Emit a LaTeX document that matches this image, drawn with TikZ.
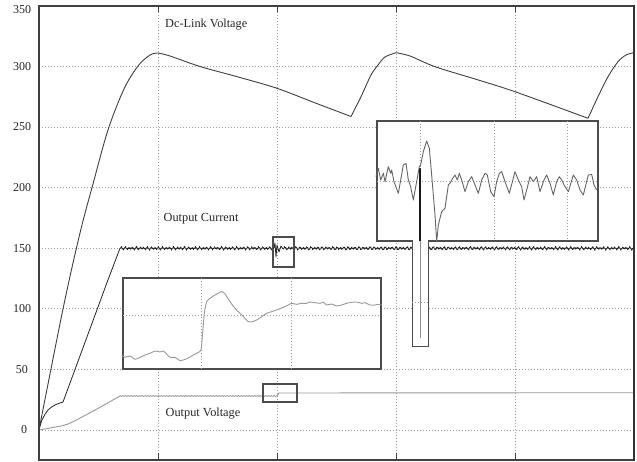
\documentclass[tikz,border=0pt]{standalone}
\usepackage{fontspec}
\setmainfont{Liberation Serif}
\begin{document}
\begin{tikzpicture}[x=1pt,y=-1pt,
  gridl/.style={gray!75, line width=0.8pt, dash pattern=on 0.8pt off 2.2pt},
  frame/.style={draw=black!75, line width=1.6pt},
  boxl/.style={draw=black!70, line width=1.1pt},
  dctrace/.style={black!75, line width=0.9pt, line join=round},
  curtrace/.style={black!85, line width=0.8pt, line join=round},
  volttrace/.style={black!40, line width=0.9pt, line join=round},
  insettrace/.style={black!60, line width=0.9pt, line join=round},
  lbl/.style={font=\fontsize{12.3}{14}\selectfont, inner sep=0pt, text=black!85},
  ylbl/.style={font=\fontsize{12}{14}\selectfont, inner sep=0pt, text=black!85}]
\useasboundingbox (0,0) rectangle (637,462);
\fill[white] (0,0) rectangle (637,462);
% grid
\foreach \gx in {158.3,277.3,396.3,515.3} \draw[gridl] (\gx,6) -- (\gx,460);
\foreach \gy in {430,369.4,308.8,248.2,187.6,127,66.4} \draw[gridl] (39,\gy) -- (634,\gy);
% y labels
\node[ylbl] (y350) at (22,10) {350};
\node[ylbl] (y300) at (22,66.4) {300};
\node[ylbl] (y250) at (22,127) {250};
\node[ylbl] (y200) at (22,187.6) {200};
\node[ylbl] (y150) at (22,248.2) {150};
\node[ylbl] (y100) at (22,308.8) {100};
\node[ylbl] (y50) at (22,369.4) {50};
\node[ylbl] (y0) at (24,430) {0};
% dc-link voltage
\draw[dctrace] plot[smooth, tension=0.55] coordinates {(39,430) (63,309) (80,233) (93,184) (108,130) (124,89) (138,66) (150,55) (158,53)};
\draw[dctrace] plot[smooth, tension=0.5] coordinates {(158,53) (170,56) (200,66.5) (240,77.5) (277,88.3) (318,104) (351,116.5)};
\draw[dctrace] plot[smooth, tension=0.5] coordinates {(351,116.5) (361,96.7) (371,75) (378,65) (385,57) (396,52.7)};
\draw[dctrace] plot[smooth, tension=0.5] coordinates {(396,52.7) (410,56) (435,66.7) (475,79) (515,91.7) (588,118.3)};
\draw[dctrace] plot[smooth, tension=0.5] coordinates {(588,118.3) (598,96.7) (608,76.7) (618,61.7) (626,55) (634,52.7)};
% output current
\draw[curtrace] plot[smooth, tension=0.5] coordinates {(39,430) (42,420) (48,410) (55,405) (63,402)};
\draw[curtrace] (63,402) -- (97.4,308.7) -- (106.7,283.3) -- (120,248.3);
\draw[curtrace] plot[domain=120:274, samples=330] (\x,{248.3+0.9*sin(360*frac(\x/3.711))+0.7*sin(360*frac(\x/1.37)+40)+0.5*sin(360*frac(\x/5.3))});
\draw[curtrace] (274,248) -- (275,243) -- (276,257) -- (277,245) -- (279,252) -- (281,246) -- (283,249);
\draw[curtrace] plot[domain=283:418, samples=290] (\x,{248.3+0.9*sin(360*frac(\x/3.711))+0.7*sin(360*frac(\x/1.37)+40)+0.5*sin(360*frac(\x/5.3))});
\draw[curtrace] plot[domain=422:634, samples=450] (\x,{248.3+0.9*sin(360*frac(\x/3.711))+0.7*sin(360*frac(\x/1.37)+40)+0.5*sin(360*frac(\x/5.3))});
% output voltage
\draw[volttrace] plot[smooth, tension=0.5] coordinates {(39,430) (50,428) (68,424) (95,410) (120,396)};
\draw[volttrace] plot[domain=120:277, samples=200] (\x,{396+0.4*sin(360*frac(\x/2.748))});
\draw[volttrace] (277,396) -- (279,393) -- (634,392.7);
% frame
\draw[frame] (39,6) rectangle (634,460);
\draw[black!80, line width=2.6pt] (634,5) -- (634,461);
\foreach \gx in {158.3,277.3,396.3,515.3} {\draw[frame, line width=1.1pt] (\gx,6) -- (\gx,12); \draw[frame, line width=1.1pt] (\gx,460) -- (\gx,453);}
% texts
\node[lbl, anchor=west] (dclbl) at (165,24.3) {Dc-Link Voltage};
\node[lbl, anchor=west] (curlbl) at (163.5,218.3) {Output Current};
\node[lbl, anchor=west] (voltlbl) at (165.5,413.3) {Output Voltage};
% small source boxes
\draw[boxl] (273,237) rectangle (294,267);
\draw[boxl] (263,384) rectangle (297,402);
% voltage inset
\draw[boxl, fill=white] (123,278) rectangle (381,369);
\draw[gridl] (201.7,278) -- (201.7,369);
\draw[gridl] (291,278) -- (291,369);
\draw[gridl] (123,315) -- (381,315);
\begin{scope}[shift={(115,270)}, xscale=1/3, yscale=1/3]
\draw[insettrace, black!40] plot[smooth, tension=0.4] coordinates {(20,255) (30,262) (45,258) (60,268) (75,262) (90,255) (105,250) (120,243) (135,246) (145,243) (155,252) (165,262) (180,262) (195,272) (205,270) (220,264) (235,255) (248,248) (258,240) (262,200) (268,130) (275,95) (285,85) (300,75) (320,65) (330,72) (345,95) (360,115) (375,130) (385,140) (400,155) (412,155) (425,150) (440,140) (455,130) (470,125) (490,118) (505,112) (520,105) (530,100) (545,103) (560,100) (575,100) (585,96) (600,98) (615,100) (625,97) (635,105) (650,102) (665,108) (680,105) (695,100) (710,97) (725,96) (740,100) (750,98) (765,105) (780,105) (790,103) (800,105)};
\end{scope}
% current inset with tab
\draw[boxl, fill=white] (377,121) -- (598,121) -- (598,241) -- (428.3,241) -- (428.3,346.3) -- (412.3,346.3) -- (412.3,241) -- (377,241) -- cycle;
\draw[gridl] (420.5,121) -- (420.5,241);
\draw[gridl] (494,121) -- (494,241);
\draw[gridl] (567.3,121) -- (567.3,241);
\draw[gridl] (377,181.5) -- (598,181.5);
\draw[gridl] (412.3,302.7) -- (428.3,302.7);
\draw[black!45, line width=1pt] (420,241) -- (420,338);
\draw[black!90, line width=1.3pt] (420,168) -- (420,241);
\begin{scope}[shift={(370,115)}, xscale=1/3, yscale=1/3]
\draw[insettrace] plot coordinates {(18,185) (25,160) (32,195) (40,175) (45,200) (55,155) (62,175) (65,165) (72,200) (85,235) (100,150) (108,145) (115,195) (122,215) (130,255) (140,200) (148,155) (152,150) (160,110) (170,78) (178,100) (185,180) (195,300) (200,380) (205,330) (215,290) (225,280) (235,210) (240,205) (248,190) (255,180) (262,195) (268,175) (275,195) (285,230) (295,200) (305,185) (315,210) (325,235) (335,195) (345,175) (352,180) (362,230) (372,245) (380,200) (388,175) (395,170) (405,200) (418,235) (435,170) (445,195) (455,215) (462,255) (470,225) (480,185) (490,200) (500,185) (510,230) (522,195) (530,180) (540,205) (550,240) (560,200) (568,185) (575,195) (585,215) (595,230) (610,180) (620,195) (630,225) (640,240) (655,180) (665,178) (672,210) (680,225)};
\end{scope}
\end{tikzpicture}
\end{document}
